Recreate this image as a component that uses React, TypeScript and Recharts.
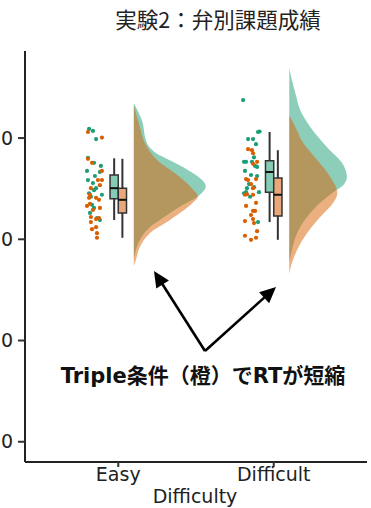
import React from 'react';
import { ComposedChart, XAxis, YAxis, Area, Scatter, ReferenceArea, ReferenceLine } from 'recharts';

const categories = ['Easy', 'Difficult'];
const categoryPositions = [1, 2];
const yTicks = [400, 600, 800, 1000];

const GREEN = '#1b9e77';
const ORANGE = '#d95f02';
const GREEN_BOX = '#86cbb5';
const ORANGE_BOX = '#eba77c';

// jitter points: [offset from category, RT]
const easyGreenPoints = [
  [-0.188, 1018], [-0.163, 1014], [-0.143, 998], [-0.195, 961], [-0.156, 951], [-0.112, 945],
  [-0.118, 933], [-0.201, 935], [-0.15, 925], [-0.195, 917], [-0.163, 911], [-0.143, 901],
  [-0.156, 897], [-0.188, 891], [-0.105, 888], [-0.176, 884], [-0.169, 868], [-0.182, 852],
  [-0.137, 842], [-0.118, 838], [-0.156, 862],
];
const easyOrangePoints = [
  [-0.195, 1012], [-0.105, 1001], [-0.195, 959], [-0.169, 951], [-0.105, 935], [-0.131, 917],
  [-0.105, 917], [-0.118, 907], [-0.176, 901], [-0.182, 888], [-0.188, 882], [-0.143, 882],
  [-0.124, 878], [-0.182, 870], [-0.118, 862], [-0.163, 858], [-0.176, 844], [-0.143, 840],
  [-0.124, 842], [-0.176, 834], [-0.169, 820], [-0.143, 824], [-0.137, 812], [-0.137, 803],
  [-0.201, 866],
];
const difficultGreenPoints = [
  [-0.197, 1075], [-0.101, 1012], [-0.091, 1013], [-0.165, 998], [-0.133, 998], [-0.114, 988],
  [-0.127, 962], [-0.191, 953], [-0.178, 953], [-0.14, 953], [-0.12, 945], [-0.107, 943],
  [-0.185, 935], [-0.146, 927], [-0.107, 925], [-0.159, 909], [-0.127, 903], [-0.172, 901],
  [-0.191, 891], [-0.178, 893], [-0.095, 893], [-0.152, 884], [-0.101, 834],
];
const difficultOrangePoints = [
  [-0.165, 978], [-0.14, 976], [-0.133, 970], [-0.107, 953], [-0.133, 949], [-0.178, 919],
  [-0.165, 917], [-0.114, 919], [-0.146, 909], [-0.133, 901], [-0.172, 889], [-0.185, 888],
  [-0.133, 888], [-0.114, 872], [-0.178, 866], [-0.133, 856], [-0.12, 856], [-0.146, 848],
  [-0.185, 836], [-0.133, 840], [-0.127, 832], [-0.107, 816], [-0.185, 807], [-0.146, 799],
  [-0.114, 803],
];

// box stats per category: [lower whisker, Q1, median, Q3, upper whisker]
const greenBoxes = [
  [838, 880, 901, 927, 960],
  [834, 893, 933, 955, 1012],
];
const orangeBoxes = [
  [803, 852, 878, 901, 959],
  [799, 846, 888, 921, 976],
];

// half-violin densities: [RT, width]
const easyGreenDensity = [
  [1069, 0], [1036, 0.051], [990, 0.084], [972, 0.135], [953, 0.251], [937, 0.347], [921, 0.425],
  [905, 0.463], [888, 0.425], [862, 0.283], [838, 0.167], [824, 0.103], [799, 0.039], [779, 0.013], [763, 0],
];
const easyOrangeDensity = [
  [1065, 0], [1022, 0.039], [990, 0.071], [957, 0.148], [923, 0.296], [901, 0.373], [884, 0.412],
  [872, 0.379], [838, 0.232], [812, 0.103], [785, 0.039], [759, 0.013], [747, 0],
];
const difficultGreenDensity = [
  [1138, 0], [1114, 0.017], [1089, 0.039], [1055, 0.071], [1022, 0.135], [982, 0.243], [951, 0.339],
  [923, 0.371], [907, 0.347], [893, 0.283], [872, 0.199], [844, 0.114], [812, 0.05], [779, 0.017], [755, 0],
];
const difficultOrangeDensity = [
  [1045, 0], [1022, 0.039], [990, 0.09], [957, 0.178], [923, 0.264], [891, 0.309], [872, 0.283],
  [844, 0.199], [812, 0.114], [779, 0.05], [753, 0.017], [732, 0],
];

const VIOLIN_OFFSET = 0.1;
const BOX_W = 0.053;

const toPoints = (pts: number[][], cat: number) => pts.map(([dx, rt]) => ({ x: cat + dx, y: rt }));
const toDensity = (dens: number[][], cat: number) =>
  dens
    .slice()
    .sort((a, b) => a[0] - b[0])
    .map(([rt, w]) => ({ y: rt, d: [cat + VIOLIN_OFFSET, cat + VIOLIN_OFFSET + w] }));

const dot = (color: string) => (p: any) => <circle cx={p.cx} cy={p.cy} r={2.1} fill={color} />;

function Arrow({ x1, y1, x2, y2 }: { x1: number; y1: number; x2: number; y2: number }) {
  const dx = x2 - x1;
  const dy = y2 - y1;
  const len = Math.hypot(dx, dy);
  const ux = dx / len;
  const uy = dy / len;
  const hl = 16;
  const hw = 7.5;
  const bx = x2 - ux * hl;
  const by = y2 - uy * hl;
  const px = -uy;
  const py = ux;
  return (
    <g>
      <line x1={x1} y1={y1} x2={bx + ux * 2} y2={by + uy * 2} stroke="#000" strokeWidth={2.6} />
      <polygon points={`${x2},${y2} ${bx + px * hw},${by + py * hw} ${bx - px * hw},${by - py * hw}`} fill="#000" />
    </g>
  );
}

function boxElements(stats: number[], cat: number, left: boolean, fill: string, key: string) {
  const [lo, q1, med, q3, hi] = stats;
  const x1 = left ? cat - BOX_W : cat;
  const x2 = left ? cat : cat + BOX_W;
  const cx = (x1 + x2) / 2;
  return [
    <ReferenceLine key={key + 'wu'} segment={[{ x: cx, y: q3 }, { x: cx, y: hi }]} stroke="#333" strokeWidth={2} />,
    <ReferenceLine key={key + 'wl'} segment={[{ x: cx, y: lo }, { x: cx, y: q1 }]} stroke="#333" strokeWidth={2} />,
    <ReferenceArea key={key + 'b'} x1={x1} x2={x2} y1={q1} y2={q3} fill={fill} fillOpacity={1} stroke="#333" strokeWidth={1.5} />,
    <ReferenceLine key={key + 'm'} segment={[{ x: x1, y: med }, { x: x2, y: med }]} stroke="#111" strokeWidth={2} zIndex={900} />,
  ];
}

export default function App() {
  const SHIFT = 40;
  return (
    <div style={{ position: 'absolute', left: 0, top: 0, width: 371, height: 508, overflow: 'hidden', background: '#fff' }}>
      <div style={{ position: 'absolute', left: -SHIFT, top: 0 }}>
        <ComposedChart
          layout="vertical"
          width={371 + SHIFT}
          height={508}
          margin={{ top: 51, right: 4, bottom: 16, left: 0 }}
        >
          <XAxis
            type="number"
            dataKey="x"
            domain={[0.4, 2.6]}
            allowDataOverflow
            ticks={categoryPositions}
            tickFormatter={(v: number) => categories[categoryPositions.indexOf(v)] ?? ''}
            height={30}
            tickSize={5}
            tickMargin={1}
            axisLine={{ stroke: '#222', strokeWidth: 2 }}
            tickLine={{ stroke: '#333', strokeWidth: 2 }}
            tick={{ fill: '#222', fontSize: 19, fontFamily: 'DejaVu Sans' }}
          />
          <YAxis
            type="number"
            dataKey="y"
            domain={[360, 1172]}
            allowDataOverflow
            reversed
            ticks={yTicks}
            width={65}
            tickSize={7}
            tickMargin={5}
            axisLine={{ stroke: '#222', strokeWidth: 2 }}
            tickLine={{ stroke: '#333', strokeWidth: 2 }}
            tick={{ fill: '#222', fontSize: 19, fontFamily: 'DejaVu Sans' }}
          />
          <Area data={toDensity(easyGreenDensity, 1)} dataKey="d" type="monotone" stroke="none" fill={GREEN} fillOpacity={0.5} dot={false} activeDot={false} isAnimationActive={false} />
          <Area data={toDensity(easyOrangeDensity, 1)} dataKey="d" type="monotone" stroke="none" fill={ORANGE} fillOpacity={0.5} dot={false} activeDot={false} isAnimationActive={false} />
          <Area data={toDensity(difficultGreenDensity, 2)} dataKey="d" type="monotone" stroke="none" fill={GREEN} fillOpacity={0.5} dot={false} activeDot={false} isAnimationActive={false} />
          <Area data={toDensity(difficultOrangeDensity, 2)} dataKey="d" type="monotone" stroke="none" fill={ORANGE} fillOpacity={0.5} dot={false} activeDot={false} isAnimationActive={false} />
          <Scatter data={toPoints(easyGreenPoints, 1)} fill={GREEN} shape={dot(GREEN)} isAnimationActive={false} />
          <Scatter data={toPoints(easyOrangePoints, 1)} fill={ORANGE} shape={dot(ORANGE)} isAnimationActive={false} />
          <Scatter data={toPoints(difficultGreenPoints, 2)} fill={GREEN} shape={dot(GREEN)} isAnimationActive={false} />
          <Scatter data={toPoints(difficultOrangePoints, 2)} fill={ORANGE} shape={dot(ORANGE)} isAnimationActive={false} />
          {boxElements(greenBoxes[0], 1, true, GREEN_BOX, 'eg')}
          {boxElements(orangeBoxes[0], 1, false, ORANGE_BOX, 'eo')}
          {boxElements(greenBoxes[1], 2, true, GREEN_BOX, 'dg')}
          {boxElements(orangeBoxes[1], 2, false, ORANGE_BOX, 'do')}
        </ComposedChart>
      </div>
      <svg width={371} height={508} style={{ position: 'absolute', left: 0, top: 0, pointerEvents: 'none' }}>
        <text x={218} y={28} textAnchor="middle" fontSize={21.5} fontFamily="'Noto Sans CJK JP'" fill="#222">
          実験2：弁別課題成績
        </text>
        <text x={195} y={503} textAnchor="middle" fontSize={19} fontFamily="'DejaVu Sans'" fill="#222">
          Difficulty
        </text>
        <text x={203} y={383} textAnchor="middle" fontSize={21} fontWeight="bold" fontFamily="'DejaVu Sans', 'Noto Sans CJK JP'" fill="#111">
          Triple条件（橙）でRTが短縮
        </text>
        <Arrow x1={205} y1={351} x2={154} y2={271} />
        <Arrow x1={205} y1={351} x2={276} y2={287} />
      </svg>
    </div>
  );
}
